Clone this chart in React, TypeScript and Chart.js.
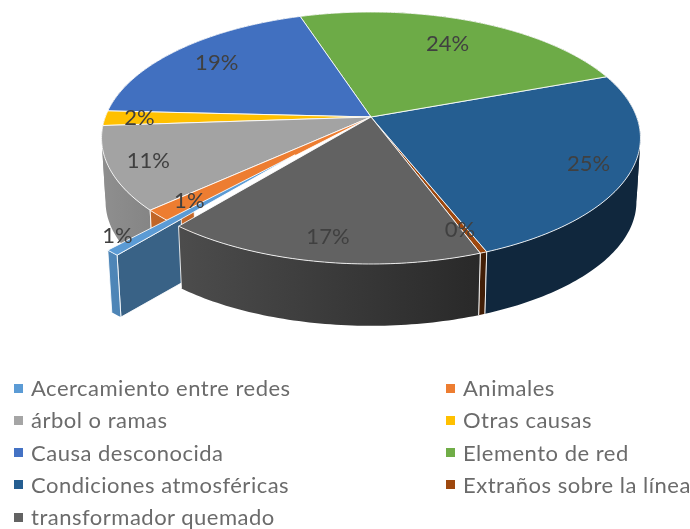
import React, { useEffect, useRef } from "react";
import { Chart, registerables } from "chart.js";

Chart.register(...registerables);

const categories = [
  "Acercamiento entre redes",
  "Animales",
  "árbol o ramas",
  "Otras causas",
  "Causa desconocida",
  "Elemento de red",
  "Condiciones atmosféricas",
  "Extraños sobre la línea",
  "transformador quemado",
];
const percentages = [0.85, 1.49, 10.7, 1.9, 19.2, 24.35, 24.65, 0.36, 16.5];
const topColors = ["#5b9bd5", "#ed7d31", "#a3a3a3", "#ffc000", "#4170c0", "#6dab47", "#255e91", "#9e480e", "#626262"];
const legendColors = ["#5b9bd5", "#ed7d31", "#a5a5a5", "#ffc000", "#4472c4", "#70ad47", "#255e91", "#9e480e", "#636363"];
const explode = [0.4, 0, 0, 0, 0, 0, 0, 0, 0];
const sliceScale = [0.845, 1, 1, 1, 1, 1, 1, 1, 1];
const explodeDirShiftDeg = 2.1;
const labelRadius = [1.17, 0.87, 0.86, 0.87, 0.79, 0.735, 0.85, 0.85, 0.853];
const labelAngleShift = [4, 0, 0, 0, 0, 0, 1, 1, 0];
const radialShade = [0.63, 0.83, 0, 0, 0, 0, 0, 0, 0];
const radialFraction = [0.36, 0.13, 0, 0, 0, 0, 0, 0, 0];
const wallExtendDeg = [0, 0, 20, 0, 0, 0, 0, 0, 0];
const paintGroups = [[7, 6, 5, 4, 3, 2, 1], [0], [8]];
const firstSliceAngle = 219.1;

const CX = 371;
const CY = 117;
const A = 265.7;
const B = 122.5;
const K = 1 / 6;
const S = 0.985;
const D = 64;
const EDGE = "rgba(255,255,255,0.85)";

type P = { x: number; y: number };
const project = (u: number, v: number): P => {
  const w = 1 - K * v;
  return { x: CX + (A * u) / w, y: CY + (B * v) / w };
};
const lower = (p: P): P => ({ x: CX + (p.x - CX) * S, y: CY + D + (p.y - CY) * S });

const shadeColor = (hex: string, f: number) => {
  const n = parseInt(hex.slice(1), 16);
  const c = [(n >> 16) & 255, (n >> 8) & 255, n & 255].map((v) => Math.round(v * f));
  return `rgb(${c[0]},${c[1]},${c[2]})`;
};

const path = (ctx: CanvasRenderingContext2D, pts: P[], close = true) => {
  ctx.beginPath();
  pts.forEach((p, i) => (i ? ctx.lineTo(p.x, p.y) : ctx.moveTo(p.x, p.y)));
  if (close) ctx.closePath();
};

// split a rim where it turns back horizontally, so each swept wall piece is a simple polygon
const monotonicPieces = (rim: P[]) => {
  const pieces: P[][] = [];
  let cur: P[] = [rim[0]];
  let dir = 0;
  for (let s = 1; s < rim.length; s++) {
    const d = Math.sign(rim[s].x - rim[s - 1].x);
    if (dir && d && d !== dir) {
      pieces.push(cur);
      cur = [rim[s - 1]];
    }
    if (d) dir = d;
    cur.push(rim[s]);
  }
  pieces.push(cur);
  return pieces;
};

const pie3d = {
  id: "pie3d",
  beforeDatasetDraw(chart: any, args: any) {
    const ctx: CanvasRenderingContext2D = chart.ctx;
    const arcs = chart.getDatasetMeta(args.index).data;
    ctx.save();
    ctx.lineJoin = "round";
    ctx.lineWidth = 1;
    ctx.strokeStyle = EDGE;

    const rimOf = (i: number, extra = 0) => {
      const { startAngle, endAngle } = arcs[i];
      const dir = (startAngle + endAngle) / 2 + (explodeDirShiftDeg * Math.PI) / 180;
      const ax = explode[i] * Math.cos(dir);
      const ay = explode[i] * Math.sin(dir);
      const end = endAngle + (extra * Math.PI) / 180;
      const rim: P[] = [];
      const steps = Math.max(2, Math.ceil((end - startAngle) / (Math.PI / 180)));
      for (let s = 0; s <= steps; s++) {
        const t = startAngle + ((end - startAngle) * s) / steps;
        rim.push(project(ax + sliceScale[i] * Math.cos(t), ay + sliceScale[i] * Math.sin(t)));
      }
      return { rim, apex: project(ax, ay) };
    };

    paintGroups.forEach((group) => {
      // radial wall facing the viewer (only next to the exploded gap)
      group.forEach((i) => {
        if (!radialShade[i]) return;
        const { rim, apex } = rimOf(i);
        const f = radialFraction[i];
        const inner = { x: rim[0].x + (apex.x - rim[0].x) * f, y: rim[0].y + (apex.y - rim[0].y) * f };
        path(ctx, [inner, rim[0], lower(rim[0]), lower(inner)]);
        ctx.fillStyle = shadeColor(topColors[i], radialShade[i]);
        ctx.fill();
        ctx.stroke();
      });
      // outer walls
      group.forEach((i) => {
        const { rim } = rimOf(i, wallExtendDeg[i]);
        const grad = ctx.createLinearGradient(105, 0, 480, 0);
        grad.addColorStop(0, shadeColor(topColors[i], 0.87));
        grad.addColorStop(1, shadeColor(topColors[i], 0.42));
        ctx.fillStyle = grad;
        monotonicPieces(rim).forEach((piece) => {
          path(ctx, [...piece, ...piece.map(lower).reverse()]);
          ctx.fill();
        });
        path(ctx, [rim[0], lower(rim[0])], false);
        ctx.stroke();
        if (!wallExtendDeg[i]) {
          const last = rim[rim.length - 1];
          path(ctx, [last, lower(last)], false);
          ctx.stroke();
        }
      });
      // top faces
      group.forEach((i) => {
        const { rim, apex } = rimOf(i);
        path(ctx, [apex, ...rim]);
        ctx.fillStyle = topColors[i];
        ctx.fill();
        ctx.stroke();
      });
    });

    // percentage labels
    ctx.font = "22px Lato";
    ctx.fillStyle = "#404040";
    ctx.textAlign = "center";
    ctx.textBaseline = "middle";
    const total = percentages.reduce((a, b) => a + b, 0);
    arcs.forEach((arc: any, i: number) => {
      const mid = (arc.startAngle + arc.endAngle) / 2 + (labelAngleShift[i] * Math.PI) / 180;
      const p = project(labelRadius[i] * Math.cos(mid), labelRadius[i] * Math.sin(mid));
      ctx.fillText(`${Math.round((percentages[i] / total) * 100)}%`, p.x, p.y);
    });
    ctx.restore();
    return false;
  },
};

export default function App() {
  const ref = useRef<HTMLCanvasElement>(null);
  useEffect(() => {
    const chart = new Chart(ref.current!, {
      type: "pie",
      data: {
        labels: categories,
        datasets: [{ data: percentages, backgroundColor: topColors }],
      },
      options: {
        responsive: false,
        animation: false,
        rotation: firstSliceAngle,
        plugins: { legend: { display: false }, tooltip: { enabled: false } },
      },
      plugins: [pie3d],
    } as any);
    return () => chart.destroy();
  }, []);

  return (
    <div style={{ position: "absolute", left: 0, top: 0, width: 690, height: 529, overflow: "hidden", background: "#fff" }}>
      <canvas ref={ref} width={690} height={529} style={{ position: "absolute", left: 0, top: 0 }} />
      {categories.map((name, i) => {
        const row = Math.floor(i / 2);
        const col = i % 2;
        const y = 388 + row * 32.25;
        return (
          <React.Fragment key={name}>
            <div
              style={{
                position: "absolute",
                left: col ? 446 : 14,
                top: y - 4.5,
                width: 9,
                height: 9,
                background: legendColors[i],
              }}
            />
            <div
              style={{
                position: "absolute",
                left: col ? 463 : 31,
                top: y - 15,
                height: 30,
                lineHeight: "30px",
                fontFamily: "Lato",
                fontSize: 22,
                letterSpacing: 0.5,
                color: "#6b6b6b",
                whiteSpace: "nowrap",
              }}
            >
              {name}
            </div>
          </React.Fragment>
        );
      })}
    </div>
  );
}
